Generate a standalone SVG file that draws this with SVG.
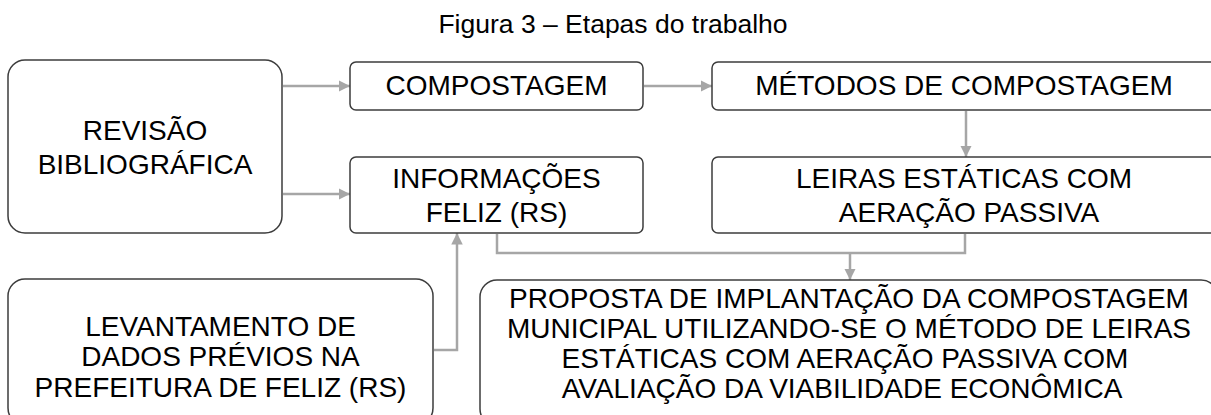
<svg xmlns="http://www.w3.org/2000/svg" width="1211" height="415" viewBox="0 0 1211 415">
<defs>
<style>
.box{fill:#ffffff;stroke:#3c3c3c;stroke-width:1.5}
.t{font-family:"Liberation Sans",Arial,sans-serif;font-size:28px;fill:#000;text-anchor:middle}
.title{font-family:"Liberation Sans",Arial,sans-serif;font-size:26.5px;fill:#000;text-anchor:middle}
.c{fill:none;stroke:#a6a6a6;stroke-width:2.5}
</style>
<marker id="ah" viewBox="0 0 10 10" refX="10" refY="5" markerWidth="4.6" markerHeight="4.6" markerUnits="strokeWidth" orient="auto">
<path d="M0,0 L10,5 L0,10 z" fill="#a6a6a6"/>
</marker>
</defs>
<rect width="1211" height="415" fill="#ffffff"/>
<text class="title" x="613" y="33">Figura 3 – Etapas do trabalho</text>
<g id="connectors">
<line class="c" x1="283" y1="86" x2="350" y2="86" marker-end="url(#ah)"/>
<line class="c" x1="283" y1="194" x2="350" y2="194" marker-end="url(#ah)"/>
<line class="c" x1="644" y1="86" x2="712" y2="86" marker-end="url(#ah)"/>
<line class="c" x1="966" y1="111" x2="966" y2="157" marker-end="url(#ah)"/>
<polyline class="c" points="497,234 497,253 965,253 965,234"/>
<line class="c" x1="850" y1="253" x2="850" y2="280" marker-end="url(#ah)"/>
<polyline class="c" points="434,350 457,350 457,233" marker-end="url(#ah)"/>
</g>
<g id="revisao">
<rect class="box" x="8" y="60" width="274" height="173" rx="17"/>
<text class="t" x="145" y="140">REVISÃO</text>
<text class="t" x="145" y="174">BIBLIOGRÁFICA</text>
</g>
<g id="compostagem">
<rect class="box" x="350" y="62" width="293" height="48" rx="6"/>
<text class="t" x="496.5" y="95">COMPOSTAGEM</text>
</g>
<g id="informacoes">
<rect class="box" x="350" y="157" width="293" height="76" rx="6"/>
<text class="t" x="496.5" y="188">INFORMAÇÕES</text>
<text class="t" x="496.5" y="222">FELIZ (RS)</text>
</g>
<g id="metodos">
<rect class="box" x="712" y="62" width="505" height="48" rx="6"/>
<text class="t" x="964" y="95">MÉTODOS DE COMPOSTAGEM</text>
</g>
<g id="leiras">
<rect class="box" x="712" y="157" width="505" height="76" rx="6"/>
<text class="t" x="964" y="188">LEIRAS ESTÁTICAS COM</text>
<text class="t" x="969" y="222">AERAÇÃO PASSIVA</text>
</g>
<g id="levantamento">
<rect class="box" x="8" y="279" width="425" height="146" rx="17"/>
<text class="t" x="220.5" y="336">LEVANTAMENTO DE</text>
<text class="t" x="220.5" y="366">DADOS PRÉVIOS NA</text>
<text class="t" x="220.5" y="397">PREFEITURA DE FELIZ (RS)</text>
</g>
<g id="proposta">
<rect class="box" x="480" y="280" width="738" height="146" rx="17"/>
<text class="t" x="849" y="308">PROPOSTA DE IMPLANTAÇÃO DA COMPOSTAGEM</text>
<text class="t" x="849" y="338">MUNICIPAL UTILIZANDO-SE O MÉTODO DE LEIRAS</text>
<text class="t" x="845" y="368">ESTÁTICAS COM AERAÇÃO PASSIVA COM</text>
<text class="t" x="842" y="398">AVALIAÇÃO DA VIABILIDADE ECONÔMICA</text>
</g>
</svg>
